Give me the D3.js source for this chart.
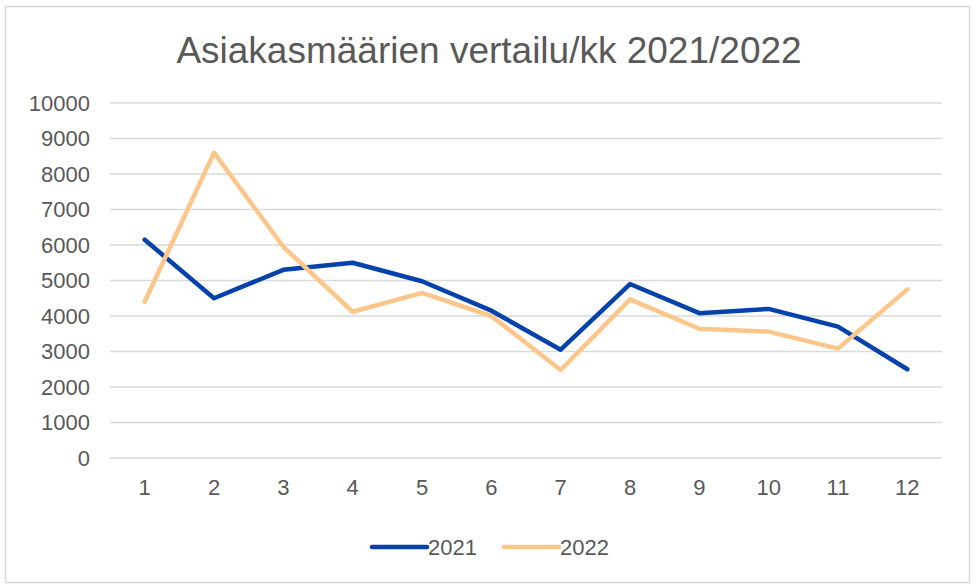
<!DOCTYPE html>
<html>
<head>
<meta charset="utf-8">
<script src="https://cdn.jsdelivr.net/npm/d3@7"></script>
<style>
  body { margin: 0; background: #fff; }
  text { font-family: "Liberation Sans", Arial, sans-serif; fill: #595959; }
</style>
</head>
<body>
<svg id="chart" width="977" height="585"></svg>
<script>
var months = ["1", "2", "3", "4", "5", "6", "7", "8", "9", "10", "11", "12"];
var yTicks = [0, 1000, 2000, 3000, 4000, 5000, 6000, 7000, 8000, 9000, 10000];
var values2021 = [6150, 4500, 5300, 5500, 4980, 4150, 3050, 4900, 4080, 4200, 3700, 2500];
var values2022 = [4400, 8600, 5950, 4120, 4650, 4000, 2480, 4470, 3640, 3560, 3080, 4750];
var seriesNames = ["2021", "2022"];
var seriesColors = ["#0542ab", "#fcc58a"];

var svg = d3.select("#chart");

// chart border
svg.append("rect")
    .attr("x", 5.5).attr("y", 6.5)
    .attr("width", 964).attr("height", 576)
    .attr("fill", "#fff")
    .attr("stroke", "#d9d9d9")
    .attr("stroke-width", 1.5);

svg.append("text")
    .attr("x", 489)
    .attr("y", 63)
    .attr("text-anchor", "middle")
    .style("font-size", "37px")
    .text("Asiakasmäärien vertailu/kk 2021/2022");

var x = d3.scaleBand()
    .domain(months)
    .range([110, 942]);

var y = d3.scaleLinear()
    .domain([0, 10000])
    .range([458, 103]);

// gridlines
svg.append("g")
    .selectAll("line")
    .data(yTicks)
    .enter()
    .append("line")
    .attr("x1", 110)
    .attr("x2", 942)
    .attr("y1", function (d) { return y(d); })
    .attr("y2", function (d) { return y(d); })
    .attr("stroke", "#d9d9d9")
    .attr("stroke-width", 1.5);

var yAxis = svg.append("g")
    .attr("transform", "translate(110,0)")
    .call(d3.axisLeft(y).tickValues(yTicks).tickSize(0).tickPadding(20).tickFormat(d3.format("d")));
yAxis.select(".domain").remove();
yAxis.selectAll("text").style("font-size", "22px").attr("fill", "#595959");

var xAxis = svg.append("g")
    .attr("transform", "translate(0,458)")
    .call(d3.axisBottom(x).tickSize(0).tickPadding(21));
xAxis.select(".domain").remove();
xAxis.selectAll("text").style("font-size", "22px").attr("fill", "#595959");

var line = d3.line()
    .x(function (d, i) { return x(months[i]) + x.bandwidth() / 2; })
    .y(function (d) { return y(d); });

[values2021, values2022].forEach(function (vals, k) {
    svg.append("path")
        .datum(vals)
        .attr("fill", "none")
        .attr("stroke", seriesColors[k])
        .attr("stroke-width", 4.5)
        .attr("stroke-linejoin", "round")
        .attr("stroke-linecap", "round")
        .attr("d", line);
});

// legend
var legendX = [372, 504];
seriesNames.forEach(function (name, k) {
    var g = svg.append("g").attr("transform", "translate(" + legendX[k] + ",547)");
    g.append("line")
        .attr("x1", 0).attr("x2", 55)
        .attr("stroke", seriesColors[k])
        .attr("stroke-width", 4.5)
        .attr("stroke-linecap", "round");
    g.append("text")
        .attr("x", 56)
        .attr("y", 8)
        .style("font-size", "22px")
        .text(name);
});
</script>
</body>
</html>
